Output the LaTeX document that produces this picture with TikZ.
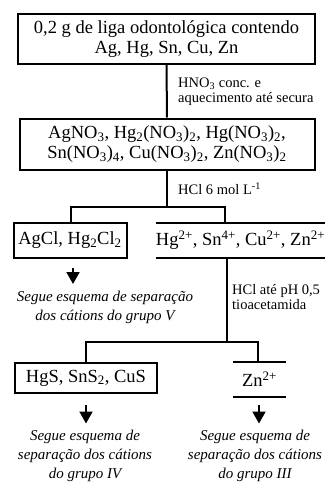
\documentclass[tikz,border=0pt]{standalone}
\usepackage{fontspec}
\setmainfont{Liberation Serif}
\usetikzlibrary{arrows.meta}
\tikzset{%
  linha/.style={draw, line width=2pt},%
  caixa/.style={draw, line width=2pt, rectangle, inner sep=0pt, align=center, font=\fontsize{18.5}{20}\selectfont},%
  solucao/.style={rectangle, inner sep=0pt, align=center, font=\fontsize{18.5}{20}\selectfont},%
  reagente/.style={anchor=west, inner sep=0pt, align=left, font=\fontsize{14.5}{15}\selectfont},%
  destino/.style={inner sep=0pt, align=center, font=\fontsize{15}{19}\selectfont\itshape},%
  seta/.style={line width=2pt, shorten >=6.5pt, -{Triangle[width=13pt, length=12pt]}}%
}
\begin{document}
\begin{tikzpicture}[x=1pt, y=-1pt]%
\useasboundingbox (0,0) rectangle (325,482);%
\node[caixa, minimum width=297pt, minimum height=50pt] (liga) at (166.5,39) {0,2 g de liga odontológica contendo\\Ag, Hg, Sn, Cu, Zn};%
\node[caixa, minimum width=295pt, minimum height=51pt] (nitratos) at (167,144) {AgNO\textsubscript{3}, Hg\textsubscript{2}(NO\textsubscript{3})\textsubscript{2}, Hg(NO\textsubscript{3})\textsubscript{2},\\Sn(NO\textsubscript{3})\textsubscript{4}, Cu(NO\textsubscript{3})\textsubscript{2}, Zn(NO\textsubscript{3})\textsubscript{2}};%
\node[caixa, minimum width=113pt, minimum height=35pt] (cloretos) at (70,240.5) {AgCl, Hg\textsubscript{2}Cl\textsubscript{2}};%
\node[solucao, minimum width=169pt, minimum height=35pt] (ions) at (240.5,240.5) {Hg\textsuperscript{2+}, Sn\textsuperscript{4+}, Cu\textsuperscript{2+}, Zn\textsuperscript{2+}};%
\node[caixa, minimum width=142pt, minimum height=30pt] (sulfetos) at (86,378) {HgS, SnS\textsubscript{2}, CuS};%
\node[solucao, minimum width=53pt, minimum height=35pt] (zinco) at (259.5,379.5) {Zn\textsuperscript{2+}};%
\draw[linha] (ions.north west) -- (ions.north east) (ions.south west) -- (ions.south east);%
\draw[linha] (zinco.north west) -- (zinco.north east) (zinco.south west) -- (zinco.south east);%
\node[reagente] (hno3) at (178,92) {HNO\textsubscript{3} conc. e\\aquecimento até secura};%
\node[reagente] (hcl) at (178,189) {HCl 6 mol L\textsuperscript{-1}};%
\node[reagente] (tioac) at (232,297) {HCl até pH 0,5\\tioacetamida};%
\node[destino] (grupoV) at (105,307) {Segue esquema de separação\\dos cátions do grupo V};%
\node[destino] (grupoIV) at (85,456) {Segue esquema de\\separação dos cátions\\do grupo IV};%
\node[destino] (grupoIII) at (255,456) {Segue esquema de\\separação dos cátions\\do grupo III};%
% ligacoes
\coordinate (ramo1e) at (71,207);%
\coordinate (ramo1d) at (225,207);%
\coordinate (tronco2) at (227,342);%
\coordinate (ramo2e) at (86,342);%
\coordinate (ramo2d) at (258,342);%
\draw[linha] (liga.south) -- (nitratos.north);%
\draw[linha] (nitratos.south) -- (nitratos.south |- ramo1e);%
\draw[linha] (ramo1e |- cloretos.north) -- (ramo1e) -- (ramo1d) -- (ramo1d |- ions.north);%
\draw[linha] (tronco2 |- ions.south) -- (tronco2);%
\draw[linha] (ramo2e |- sulfetos.north) -- (ramo2e) -- (ramo2d) -- (ramo2d |- zinco.north);%
% setas
\coordinate (seta1) at (73,268);%
\coordinate (seta2) at (86,405);%
\coordinate (seta3) at (259,405);%
\draw[seta] (seta1) -- (seta1 |- grupoV.north);%
\draw[seta] (seta2) -- (seta2 |- grupoIV.north);%
\draw[seta] (seta3) -- (seta3 |- grupoIII.north);%
\end{tikzpicture}
\end{document}
